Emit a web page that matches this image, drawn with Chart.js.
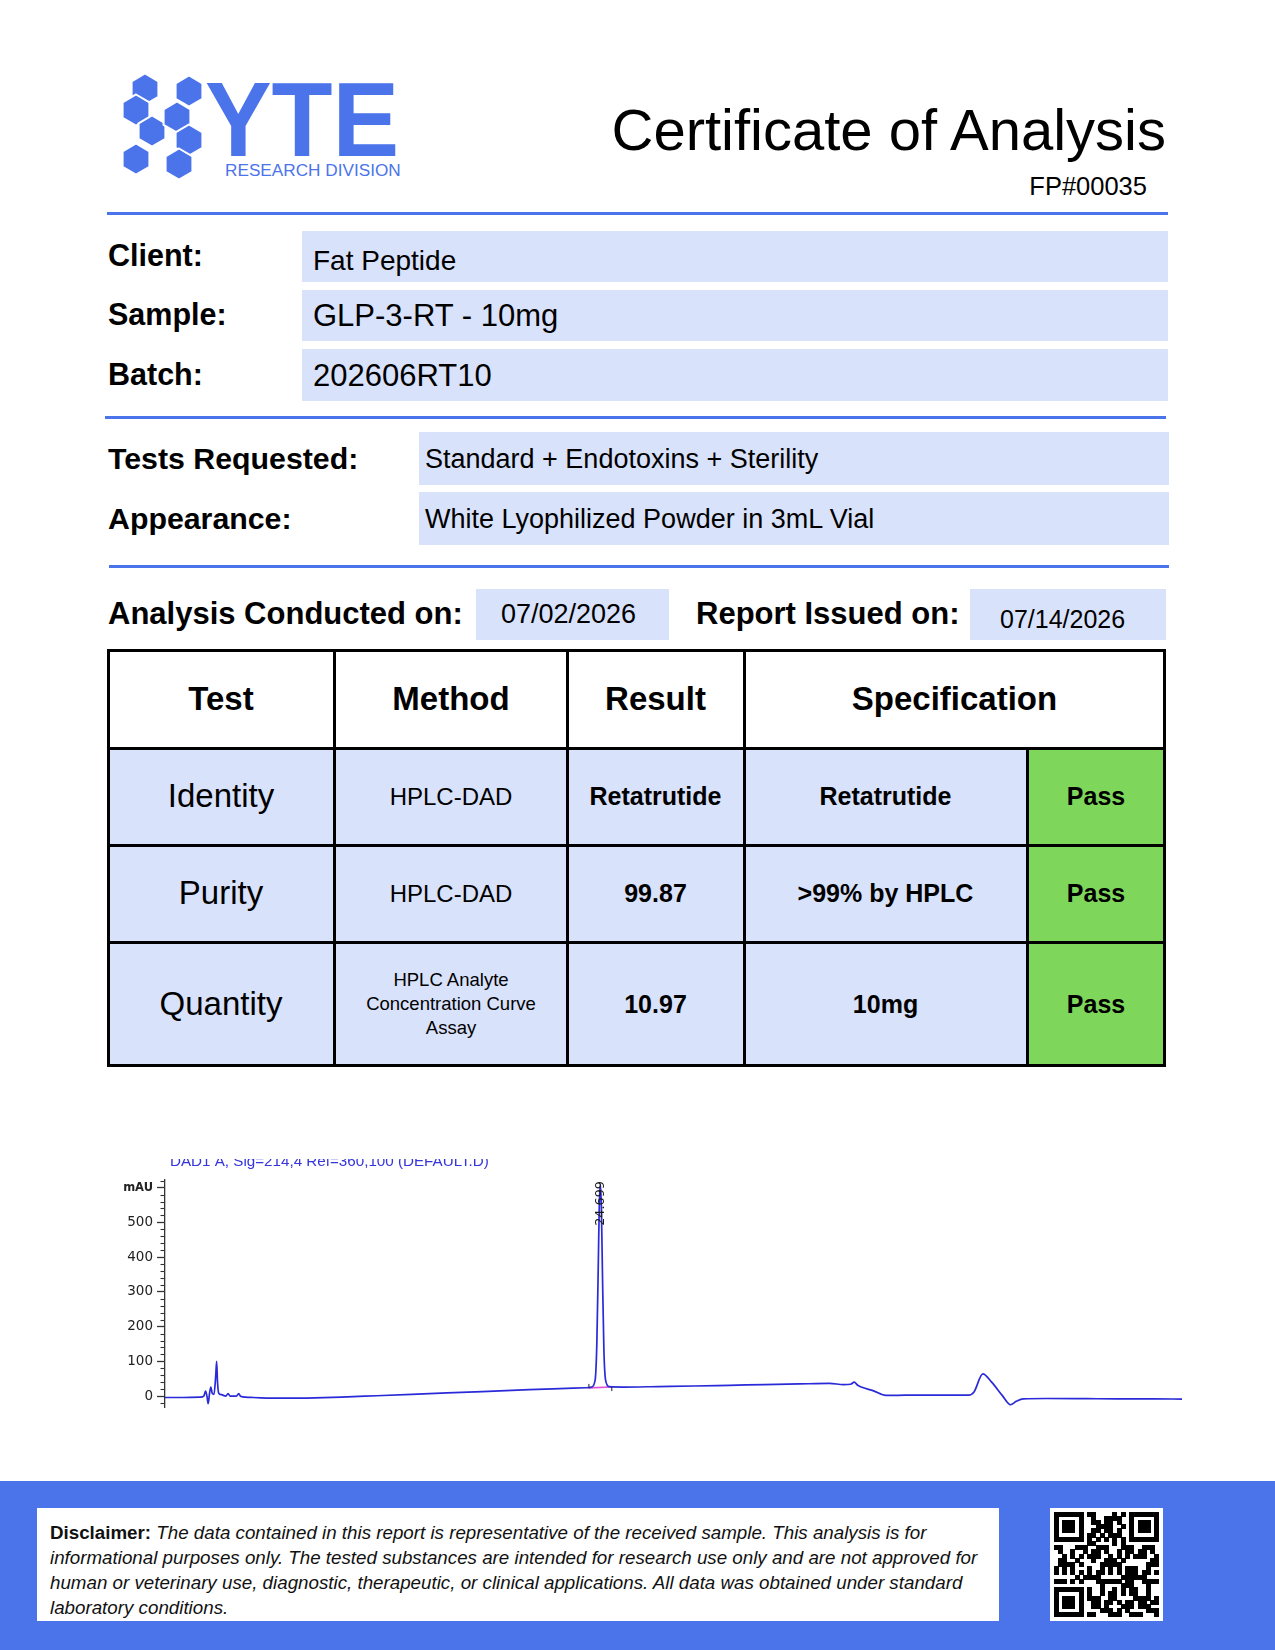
<!DOCTYPE html>
<html>
<head>
<meta charset="utf-8">
<title>Certificate of Analysis</title>
<script src="https://cdn.jsdelivr.net/npm/chart.js@4.4.1/dist/chart.umd.min.js"></script>
<style>
  html, body { margin: 0; padding: 0; background: #fff; }
  #page { position: relative; width: 1275px; height: 1650px; overflow: hidden; font-family: "Liberation Sans", Arial, sans-serif; color: #000; }
  .t { position: absolute; line-height: 1; white-space: nowrap; }
  .b { font-weight: bold; }
  .box { position: absolute; background: #d9e2fb; }
  .rule { position: absolute; height: 3px; background: #4b74eb; }
  .cell { position: absolute; display: flex; align-items: center; justify-content: center; text-align: center; line-height: 1.3; }
  .ln { position: absolute; background: #000; }
  #chartWrap { position: absolute; left: 100px; top: 1159px; width: 1090px; height: 261px; }
</style>
</head>
<body>
<div id="page">

  <!-- logo -->
  <svg id="logo" style="position:absolute;left:0;top:0" width="220" height="200" viewBox="0 0 220 200">
    <g id="hexes" fill="#4b74eb" stroke="#fff" stroke-width="2"></g>
  </svg>
  <div class="t b" style="left:205px;top:79.3px;font-size:106px;line-height:80px;color:#4b74eb;transform:scaleX(0.942);transform-origin:left center">YTE</div>
  <div class="t" style="left:225px;top:162px;font-size:17.2px;line-height:16px;color:#4b74eb">RESEARCH DIVISION</div>

  <div class="t" style="right:109px;top:101.4px;font-size:58px">Certificate of Analysis</div>
  <div class="t" style="right:128px;top:174px;font-size:25.5px">FP#00035</div>

  <div class="rule" style="left:107px;top:212px;width:1061px"></div>

  <div class="box" style="left:302px;top:231px;width:866px;height:51px"></div>
  <div class="box" style="left:302px;top:290px;width:866px;height:51px"></div>
  <div class="box" style="left:302px;top:349px;width:866px;height:52px"></div>
  <div class="t b" style="left:108px;top:240px;font-size:30.5px">Client:</div>
  <div class="t b" style="left:108px;top:299px;font-size:30.5px">Sample:</div>
  <div class="t b" style="left:108px;top:359px;font-size:30.5px">Batch:</div>
  <div class="t" style="left:313px;top:247.3px;font-size:28px">Fat Peptide</div>
  <div class="t" style="left:313px;top:299.8px;font-size:31px">GLP-3-RT - 10mg</div>
  <div class="t" style="left:313px;top:359.8px;font-size:31px">202606RT10</div>

  <div class="rule" style="left:105px;top:415.5px;width:1061px"></div>

  <div class="box" style="left:419px;top:432px;width:750px;height:53px"></div>
  <div class="box" style="left:419px;top:492px;width:750px;height:53px"></div>
  <div class="t b" style="left:108px;top:443.6px;font-size:30.3px">Tests Requested:</div>
  <div class="t b" style="left:108px;top:503.6px;font-size:30.3px">Appearance:</div>
  <div class="t" style="left:425px;top:446.1px;font-size:27px">Standard + Endotoxins + Sterility</div>
  <div class="t" style="left:425px;top:506.1px;font-size:27px">White Lyophilized Powder in 3mL Vial</div>

  <div class="rule" style="left:109px;top:564.5px;width:1060px"></div>

  <div class="box" style="left:476px;top:589px;width:193px;height:51px"></div>
  <div class="box" style="left:970px;top:589px;width:196px;height:51px"></div>
  <div class="t b" style="left:108px;top:597.8px;font-size:31px">Analysis Conducted on:</div>
  <div class="t" style="left:501px;top:601.1px;font-size:27px">07/02/2026</div>
  <div class="t b" style="left:696px;top:597.8px;font-size:31px">Report Issued on:</div>
  <div class="t" style="left:1000px;top:606.8px;font-size:25px">07/14/2026</div>

  <!-- results table -->
  <div style="position:absolute;left:108px;top:748px;width:919px;height:318px;background:#d9e2fb"></div>
  <div style="position:absolute;left:1027px;top:748px;width:138px;height:318px;background:#7ed65a"></div>

  <div class="cell b" style="left:108px;top:650px;width:226px;height:98px;font-size:33px">Test</div>
  <div class="cell b" style="left:335px;top:650px;width:232px;height:98px;font-size:33px">Method</div>
  <div class="cell b" style="left:567px;top:650px;width:177px;height:98px;font-size:33px">Result</div>
  <div class="cell b" style="left:744px;top:650px;width:421px;height:98px;font-size:33px">Specification</div>

  <div class="cell" style="left:108px;top:748px;width:226px;height:97px;font-size:33px">Identity</div>
  <div class="cell" style="left:335px;top:748px;width:232px;height:97px;font-size:24px">HPLC-DAD</div>
  <div class="cell b" style="left:567px;top:748px;width:177px;height:97px;font-size:25px">Retatrutide</div>
  <div class="cell b" style="left:744px;top:748px;width:283px;height:97px;font-size:25px">Retatrutide</div>
  <div class="cell b" style="left:1027px;top:748px;width:138px;height:97px;font-size:25px">Pass</div>

  <div class="cell" style="left:108px;top:845px;width:226px;height:97px;font-size:33px">Purity</div>
  <div class="cell" style="left:335px;top:845px;width:232px;height:97px;font-size:24px">HPLC-DAD</div>
  <div class="cell b" style="left:567px;top:845px;width:177px;height:97px;font-size:25px">99.87</div>
  <div class="cell b" style="left:744px;top:845px;width:283px;height:97px;font-size:25px">&gt;99% by HPLC</div>
  <div class="cell b" style="left:1027px;top:845px;width:138px;height:97px;font-size:25px">Pass</div>

  <div class="cell" style="left:108px;top:942px;width:226px;height:124px;font-size:33px">Quantity</div>
  <div class="cell" style="left:335px;top:942px;width:232px;height:124px;font-size:18.5px">HPLC Analyte<br>Concentration Curve<br>Assay</div>
  <div class="cell b" style="left:567px;top:942px;width:177px;height:124px;font-size:25px">10.97</div>
  <div class="cell b" style="left:744px;top:942px;width:283px;height:124px;font-size:25px">10mg</div>
  <div class="cell b" style="left:1027px;top:942px;width:138px;height:124px;font-size:25px">Pass</div>

  <div class="ln" style="left:107px;top:649px;width:1059px;height:3px"></div>
  <div class="ln" style="left:107px;top:1064px;width:1059px;height:3px"></div>
  <div class="ln" style="left:107px;top:746.5px;width:1059px;height:3px"></div>
  <div class="ln" style="left:107px;top:843.5px;width:1059px;height:3px"></div>
  <div class="ln" style="left:107px;top:940.5px;width:1059px;height:3px"></div>
  <div class="ln" style="left:107px;top:649px;width:3px;height:418px"></div>
  <div class="ln" style="left:1163px;top:649px;width:3px;height:418px"></div>
  <div class="ln" style="left:333px;top:649px;width:3px;height:418px"></div>
  <div class="ln" style="left:565.5px;top:649px;width:3px;height:418px"></div>
  <div class="ln" style="left:742.5px;top:649px;width:3px;height:418px"></div>
  <div class="ln" style="left:1025.5px;top:746.5px;width:3px;height:320px"></div>

  <!-- chromatogram -->
  <div id="chartWrap"><canvas id="chrom"></canvas></div>

  <!-- footer -->
  <div style="position:absolute;left:0;top:1481px;width:1275px;height:169px;background:#4b74eb"></div>
  <div style="position:absolute;left:37px;top:1508px;width:962px;height:113px;background:#fff"></div>
  <div class="t" style="left:50px;top:1520px;font-size:18.75px;line-height:25px;font-style:italic;color:#111"><b style="font-style:normal">Disclaimer:</b> The data contained in this report is representative of the received sample. This analysis is for<br>informational purposes only. The tested substances are intended for research use only and are not approved for<br>human or veterinary use, diagnostic, therapeutic, or clinical applications. All data was obtained under standard<br>laboratory conditions.</div>
  <div style="position:absolute;left:1050px;top:1508px;width:113px;height:113px;background:#fff"></div>
  <canvas id="qr" width="105" height="105" style="position:absolute;left:1054px;top:1512px"></canvas>
</div>

<script>
// chromatogram trace, DAD1 A 214 nm: retention time (min) and absorbance (mAU)
const retentionTime = [
  0, 1.0, 2.0, 2.2, 2.3, 2.38, 2.45, 2.52, 2.6, 2.68, 2.78, 2.88, 2.93, 2.98, 3.05, 3.2,
  3.45, 3.58, 3.7, 4.05, 4.18, 4.3, 5.0, 6.0, 7.0, 8.5, 10, 12, 14, 16, 18, 20, 22,
  23.9, 24.2, 24.4, 24.5, 24.58, 24.64, 24.699, 24.76, 24.82, 24.9, 25.0, 25.2,
  26, 28, 30, 32, 34, 36, 37.7, 38.5, 38.9, 39.1, 39.3, 39.5, 40.2, 40.9, 42, 44,
  45.6, 45.9, 46.4, 46.9, 47.5, 47.97, 48.3, 48.7, 50, 52.3, 54, 56, 57.7
];
const signalMAU = [
  -4, -4, -3, 0, 14, 0, -22, 5, 26, 8, 5, 60, 100, 40, 8, 4,
  0, 7, 0, 0, 7, -1, -4, -6, -6, -5, -3, 1, 5, 9, 13, 17, 21,
  24, 26, 45, 150, 370, 550, 610, 540, 350, 135, 45, 27,
  26, 27.5, 29, 31, 33, 35, 36.5, 33, 34, 40, 31, 26, 15, 2, 2.5, 3,
  3, 12, 64, 40, 2, -25, -15, -8, -7, -7.5, -8, -8, -8.5
];
// integration baseline under the main peak
const baselineTime = [24.05, 25.35];
const baselineMAU = [23.5, 26];

const peakTimes = [24.699];
const peakLabels = ['24.699'];

const yTickValues = [0, 100, 200, 300, 400, 500, 600];
const yTickLabels = ['0', '100', '200', '300', '400', '500', 'mAU'];
const signalTitle = 'DAD1 A, Sig=214,4 Ref=360,100 (DEFAULT.D)';

// logo hexagons forming the H
(function drawLogo() {
    const centers = [[145, 89], [136, 110], [189, 91], [152, 131], [177, 117], [189, 140], [136, 159], [179, 164]];
    const g = document.getElementById('hexes');
    const r = 15.5;
    centers.forEach(([cx, cy]) => {
        const pts = [];
        for (let k = 0; k < 6; k++) {
            const a = Math.PI / 180 * (60 * k - 90);
            pts.push((cx + r * Math.cos(a)).toFixed(1) + ',' + (cy + r * Math.sin(a)).toFixed(1));
        }
        const p = document.createElementNS('http://www.w3.org/2000/svg', 'polygon');
        p.setAttribute('points', pts.join(' '));
        g.appendChild(p);
    });
})();

// decorative QR-like code
(function drawQr() {
    const c = document.getElementById('qr').getContext('2d');
    const n = 25, s = 105 / n;
    const finder = (x0, y0, i, j) => {
        const dx = i - x0, dy = j - y0;
        if (dx < 0 || dy < 0 || dx > 6 || dy > 6) return null;
        if (dx === 0 || dy === 0 || dx === 6 || dy === 6) return 1;
        if (dx >= 2 && dx <= 4 && dy >= 2 && dy <= 4) return 1;
        return 0;
    };
    c.fillStyle = '#000';
    for (let i = 0; i < n; i++) {
        for (let j = 0; j < n; j++) {
            let on = finder(0, 0, i, j);
            if (on === null) on = finder(n - 7, 0, i, j);
            if (on === null) on = finder(0, n - 7, i, j);
            if (on === null) {
                if ((i === 7 && j < 8) || (j === 7 && i < 8) || (i === n - 8 && j < 8) || (j === 7 && i > n - 9) || (i === 7 && j > n - 9) || (j === n - 8 && i < 8)) on = 0;
                else if (i === 6) on = j % 2 === 0 ? 1 : 0;
                else if (j === 6) on = i % 2 === 0 ? 1 : 0;
                else {
                    const h = (Math.imul(i + 1, 73856093) ^ Math.imul(j + 7, 19349663)) >>> 0;
                    on = (Math.imul(h, 2654435761) >>> 15) & 1;
                }
            }
            if (on) c.fillRect(Math.floor(i * s), Math.floor(j * s), Math.ceil(s), Math.ceil(s));
        }
    }
})();

const chromExtras = {
    id: 'chromExtras',
    afterDraw(chart) {
        const { ctx, chartArea, scales } = chart;
        const x = scales.x, y = scales.y;
        ctx.save();
        // minor ticks every 20 mAU
        ctx.strokeStyle = '#333';
        ctx.lineWidth = 1.1;
        for (let v = -20; v <= 620; v += 20) {
            if (v % 100 === 0) continue;
            const py = Math.round(y.getPixelForValue(v)) + 0.5;
            ctx.beginPath();
            ctx.moveTo(chartArea.left - 4.5, py);
            ctx.lineTo(chartArea.left, py);
            ctx.stroke();
        }
        // integration start/end marks
        ctx.strokeStyle = '#222';
        ctx.lineWidth = 1;
        const bx0 = x.getPixelForValue(baselineTime[0]), by0 = y.getPixelForValue(baselineMAU[0]);
        const bx1 = x.getPixelForValue(baselineTime[1]), by1 = y.getPixelForValue(baselineMAU[1]);
        ctx.beginPath();
        ctx.moveTo(bx0, by0 - 4); ctx.lineTo(bx0, by0);
        ctx.moveTo(bx1, by1); ctx.lineTo(bx1, by1 + 4);
        ctx.stroke();
        // signal title, partly cut at the top as in the print
        ctx.fillStyle = '#3535dd';
        ctx.font = '15.2px "Liberation Sans", Arial, sans-serif';
        ctx.textAlign = 'left';
        ctx.textBaseline = 'alphabetic';
        ctx.fillText(signalTitle, 70, 7);
        // retention time labels
        ctx.fillStyle = '#1a1a1a';
        ctx.font = '12.8px "DejaVu Sans", sans-serif';
        ctx.textAlign = 'right';
        ctx.textBaseline = 'middle';
        peakTimes.forEach((t, i) => {
            ctx.save();
            ctx.translate(x.getPixelForValue(t), chartArea.top + 1);
            ctx.rotate(-Math.PI / 2);
            ctx.fillText(peakLabels[i], 0, 0);
            ctx.restore();
        });
        ctx.restore();
    }
};

document.addEventListener('DOMContentLoaded', () => {
    Chart.defaults.font.family = '"Liberation Sans", Arial, sans-serif';

    const trace = retentionTime.map((t, i) => ({ x: t, y: signalMAU[i] }));
    const baseline = baselineTime.map((t, i) => ({ x: t, y: baselineMAU[i] }));

    new Chart(document.getElementById('chrom'), {
        type: 'line',
        data: {
            datasets: [{
                label: 'DAD1 A',
                data: trace,
                borderColor: '#2a2ad8',
                borderWidth: 1.7,
                pointRadius: 0,
                cubicInterpolationMode: 'monotone'
            }, {
                label: 'baseline',
                data: baseline,
                borderColor: '#e050d8',
                borderWidth: 1.6,
                pointRadius: 0
            }]
        },
        options: {
            responsive: true,
            maintainAspectRatio: false,
            animation: false,
            events: [],
            layout: { padding: { top: 21, bottom: 6, right: 8, left: 0 } },
            plugins: { legend: { display: false }, tooltip: { enabled: false }, title: { display: false } },
            scales: {
                x: { type: 'linear', display: false, min: 0, max: 57.7 },
                y: {
                    min: -34,
                    max: 622,
                    afterBuildTicks: (scale) => { scale.ticks = yTickValues.map(v => ({ value: v })); },
                    afterFit: (scale) => { scale.width = 65; },
                    border: { display: true, color: '#333', width: 1.3 },
                    grid: { drawOnChartArea: false, drawTicks: true, tickLength: 8, tickColor: '#333', tickWidth: 1.3 },
                    ticks: {
                        padding: 4,
                        color: '#222',
                        font: (ctx) => (ctx.tick && ctx.tick.value === 600)
                            ? { family: '"DejaVu Sans", sans-serif', size: 11.5, weight: 'bold' }
                            : { family: '"DejaVu Sans", sans-serif', size: 13.5 },
                        callback: (value) => yTickLabels[yTickValues.indexOf(value)]
                    }
                }
            }
        },
        plugins: [chromExtras]
    });
});
</script>
</body>
</html>
